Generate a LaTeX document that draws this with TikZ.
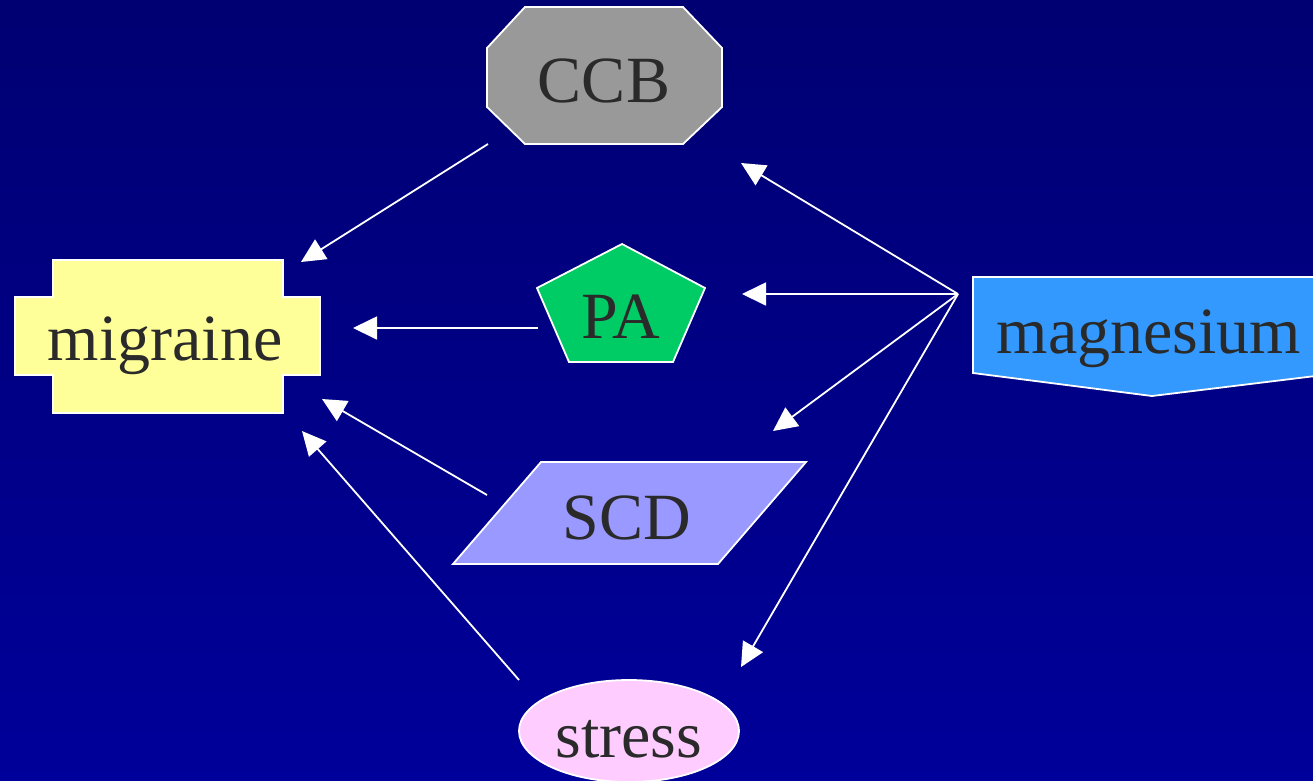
\documentclass[tikz,border=0pt]{standalone}
\usepackage{fontspec}
\setmainfont{Liberation Serif}
\usetikzlibrary{arrows.meta}
\definecolor{bgtop}{HTML}{000072}
\definecolor{bgbot}{HTML}{00009A}
\definecolor{txt}{HTML}{2A2A2A}
\begin{document}
\begin{tikzpicture}[x=1pt,y=-1pt,
  shapebox/.style={draw=white,line width=1.8pt,line join=miter},
  lbl/.style={anchor=base,inner sep=0pt,text=txt,font=\fontsize{66}{70}\selectfont},
  conn/.style={draw=white,line width=1.8pt,-{Triangle[length=24pt,width=23pt]}}]
\shade[top color=bgtop,bottom color=bgbot] (0,0) rectangle (1313,780);
\useasboundingbox (0,0) rectangle (1313,780);
% shapes
\fill[fill={rgb,255:red,255;green,255;blue,153},shapebox]
  (53,260) -- (283,260) -- (283,297) -- (320,297) -- (320,375) -- (283,375) -- (283,413)
  -- (53,413) -- (53,375) -- (15,375) -- (15,297) -- (53,297) -- cycle;
\fill[fill={rgb,255:red,153;green,153;blue,153},shapebox]
  (525,7) -- (683,7) -- (722,48) -- (722,107) -- (683,144) -- (525,144) -- (487,107) -- (487,48) -- cycle;
\fill[fill={rgb,255:red,0;green,204;blue,102},shapebox]
  (622,244) -- (705,288) -- (673,362) -- (569,362) -- (537,288) -- cycle;
\fill[fill={rgb,255:red,153;green,153;blue,255},shapebox]
  (541,462) -- (806,462) -- (718,564) -- (453,564) -- cycle;
\fill[fill={rgb,255:red,255;green,204;blue,255},shapebox]
  (629,731) ellipse [x radius=110, y radius=51];
\fill[fill={rgb,255:red,51;green,153;blue,255},shapebox]
  (973,277) -- (1340,277) -- (1340,373) -- (1152,396) -- (973,373) -- cycle;
% labels
\node[lbl] (migraine) at (165,360) {migraine};
\node[lbl] (ccb) at (604,102) {CCB};
\node[lbl] (pa) at (621,338) {PA};
\node[lbl] (scd) at (627,539) {SCD};
\node[lbl] (stress) at (629,757) {stress};
\node[lbl] (magnesium) at (1149,353) {magnesium};
% connector ends
\coordinate (ccbout) at (488,144);
\coordinate (migA) at (301,262);
\coordinate (paout) at (538,328);
\coordinate (migB) at (353,328);
\coordinate (scdout) at (487,495);
\coordinate (migC) at (322,399);
\coordinate (stressout) at (519,680);
\coordinate (migD) at (302,431);
\coordinate (mgout) at (958,294);
\coordinate (ccbin) at (741,163);
\coordinate (pain) at (742,294);
\coordinate (scdin) at (773,431);
\coordinate (stressin) at (741,667);
\draw[conn] (ccbout) -- (migA);
\draw[conn] (paout) -- (migB);
\draw[conn] (scdout) -- (migC);
\draw[conn] (stressout) -- (migD);
\draw[conn] (mgout) -- (ccbin);
\draw[conn] (mgout) -- (pain);
\draw[conn] (mgout) -- (scdin);
\draw[conn] (mgout) -- (stressin);
\end{tikzpicture}
\end{document}
